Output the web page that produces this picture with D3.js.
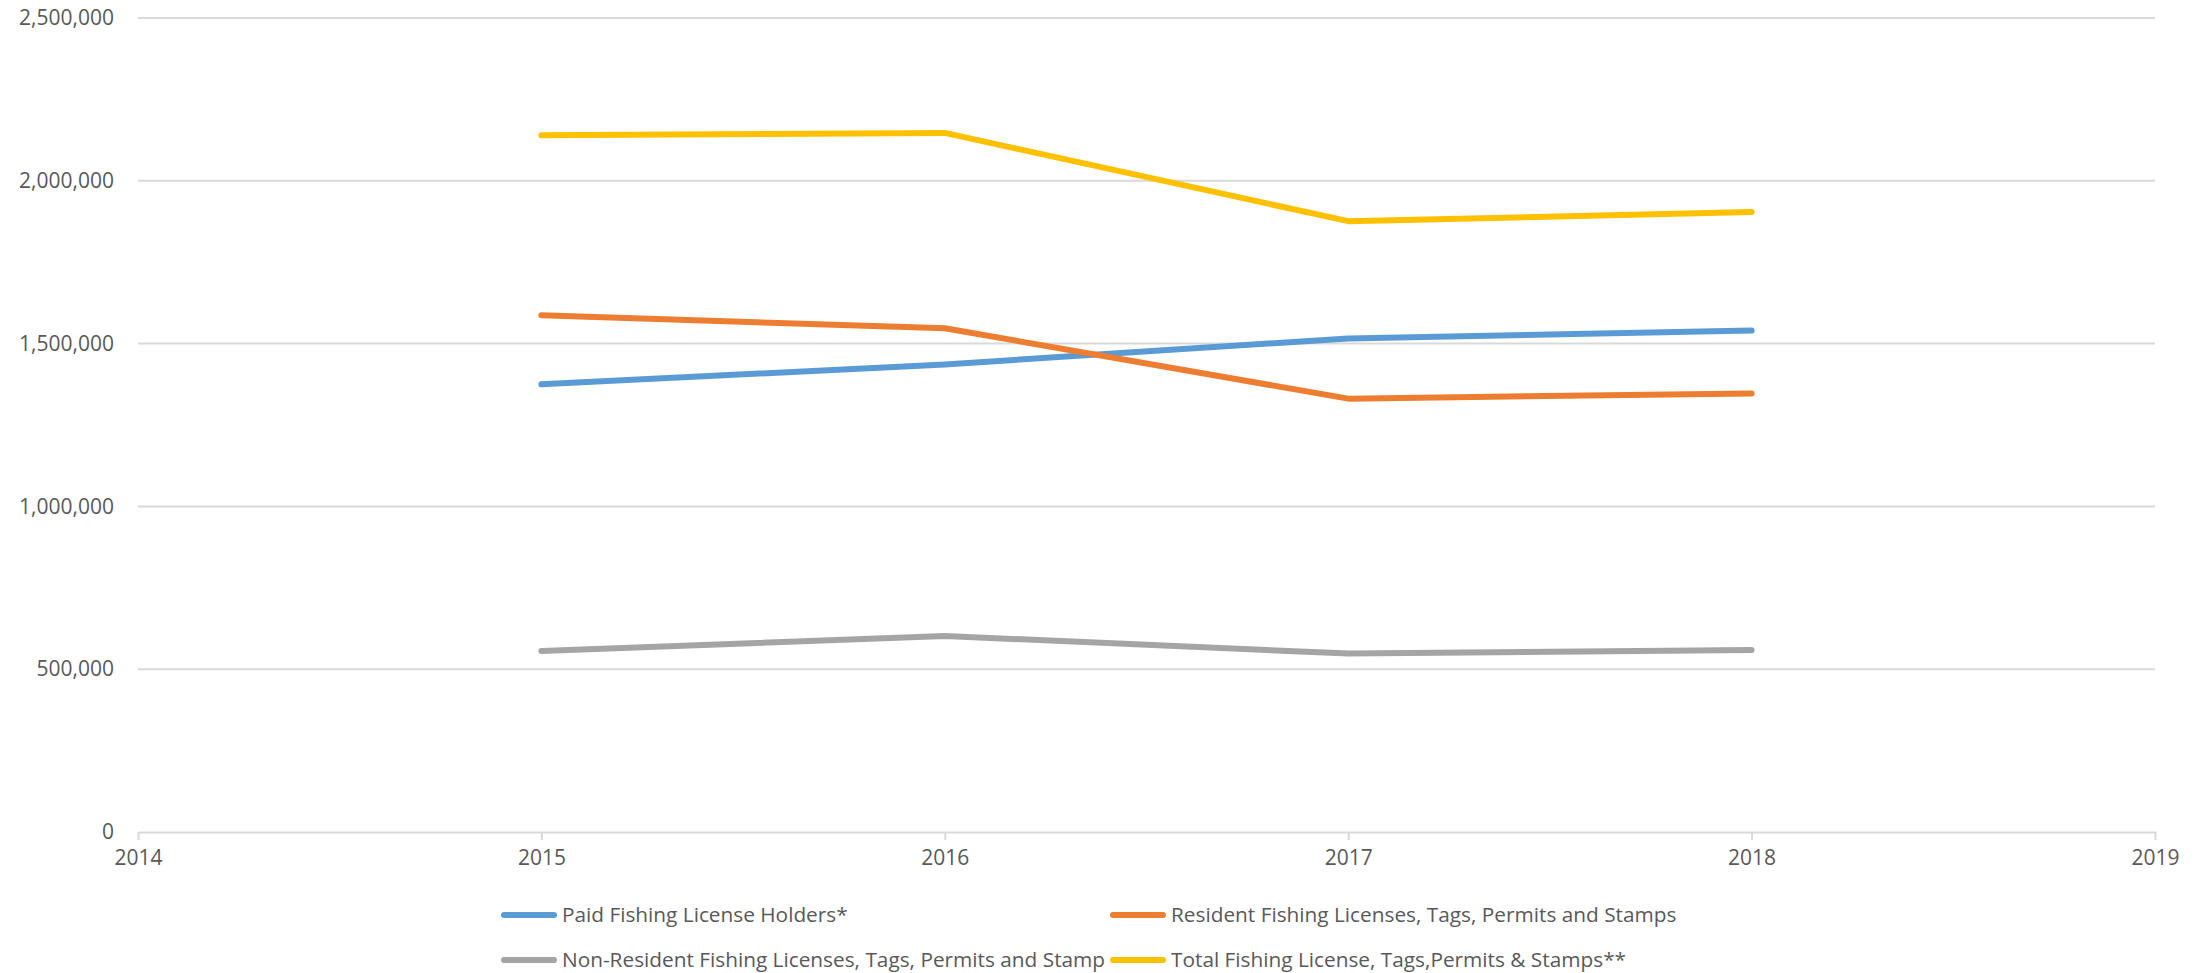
<!DOCTYPE html>
<html>
<head>
<meta charset="utf-8">
<script src="https://cdn.jsdelivr.net/npm/d3@7/dist/d3.min.js"></script>
<style>
  html, body { margin: 0; padding: 0; background: #fff; }
  svg { display: block; }
  text { font-family: "Open Sans", "Noto Sans", sans-serif; fill: #595959; }
</style>
</head>
<body>
<svg id="chart" width="2198" height="973"></svg>
<script>
// Fishing license sales by year
const years = [2015, 2016, 2017, 2018];
const paidHolders = [1375000, 1436000, 1516000, 1540000];
const residentSales = [1587000, 1547000, 1331000, 1347000];
const nonResidentSales = [556000, 602000, 548000, 559000];
const totalSales = [2140000, 2147000, 1876000, 1904000];

const seriesNames = [
  "Paid Fishing License Holders*",
  "Resident Fishing Licenses, Tags, Permits and Stamps",
  "Non-Resident Fishing Licenses, Tags, Permits and Stamp",
  "Total Fishing License, Tags,Permits & Stamps**"
];
const seriesColors = ["#5B9BD5", "#ED7D31", "#A5A5A5", "#FFC000"];
const seriesValues = [paidHolders, residentSales, nonResidentSales, totalSales];

const xTicks = [2014, 2015, 2016, 2017, 2018, 2019];
const yTicks = [0, 500000, 1000000, 1500000, 2000000, 2500000];

const svg = d3.select("#chart");
const plotLeft = 138, plotRight = 2155, plotTop = 18, plotBottom = 832;

const x = d3.scaleLinear().domain([2014, 2019]).range([plotLeft, plotRight]);
const y = d3.scaleLinear().domain([0, 2500000]).range([plotBottom, plotTop]);

// horizontal gridlines
svg.append("g")
  .selectAll("line")
  .data(yTicks.filter(d => d > 0))
  .join("line")
  .attr("x1", plotLeft).attr("x2", plotRight)
  .attr("y1", d => y(d)).attr("y2", d => y(d))
  .attr("stroke", "#D9D9D9").attr("stroke-width", 2);

// y axis labels
const yAxis = d3.axisLeft(y).tickValues(yTicks).tickFormat(d3.format(",")).tickSize(0).tickPadding(24);
const gy = svg.append("g").attr("transform", `translate(${plotLeft},0)`).call(yAxis);
gy.select(".domain").remove();
gy.selectAll("text").attr("font-size", 21).attr("fill", "#595959")
  .style("font-family", '"Open Sans", sans-serif');

// x axis
const xAxis = d3.axisBottom(x).tickValues(xTicks).tickFormat(d3.format("d")).tickSize(8).tickSizeOuter(0).tickPadding(10);
const gx = svg.append("g").attr("transform", `translate(0,${plotBottom})`).call(xAxis);
gx.select(".domain").attr("stroke", "#D9D9D9").attr("stroke-width", 2);
gx.selectAll(".tick line").attr("stroke", "#D9D9D9").attr("stroke-width", 2);
gx.selectAll("text").attr("font-size", 21).attr("fill", "#595959")
  .style("font-family", '"Open Sans", sans-serif');

// series lines
const line = d3.line().x((d, i) => x(years[i])).y(d => y(d));
svg.append("g")
  .selectAll("path")
  .data(seriesValues)
  .join("path")
  .attr("d", d => line(d))
  .attr("fill", "none")
  .attr("stroke", (d, i) => seriesColors[i])
  .attr("stroke-width", 6)
  .attr("stroke-linecap", "round")
  .attr("stroke-linejoin", "round");

// legend, two columns by two rows
const legendCols = [504, 1113];
const legendRows = [915, 960];
const legend = svg.append("g")
  .selectAll("g")
  .data(seriesNames)
  .join("g")
  .attr("transform", (d, i) => `translate(${legendCols[i % 2]},${legendRows[Math.floor(i / 2)]})`);
legend.append("line")
  .attr("x1", 0).attr("x2", 50).attr("y1", 0).attr("y2", 0)
  .attr("stroke", (d, i) => seriesColors[i])
  .attr("stroke-width", 6)
  .attr("stroke-linecap", "round");
legend.append("text")
  .attr("x", 58).attr("y", 0).attr("dy", "0.35em")
  .attr("font-size", 20.8)
  .text(d => d);
</script>
</body>
</html>
